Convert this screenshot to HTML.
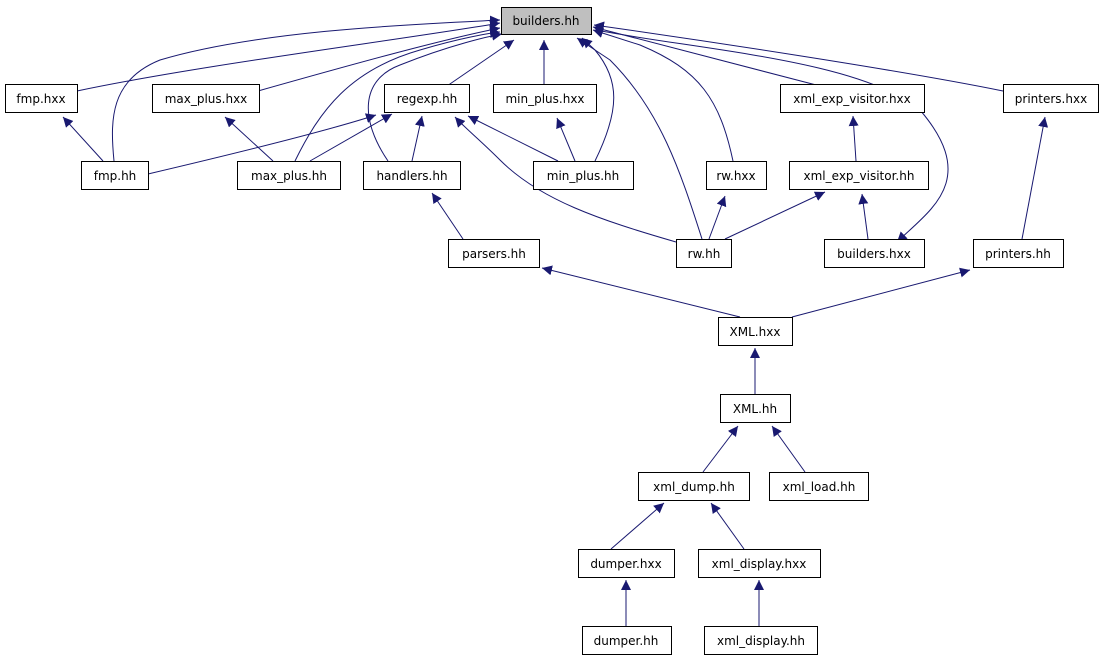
<!DOCTYPE html>
<html><head><meta charset="utf-8"><style>
html,body{margin:0;padding:0;background:#fff;}
svg text{font-family:"DejaVu Sans","Liberation Sans",sans-serif;font-size:12px;fill:#000;}
</style></head><body>
<svg width="1104" height="659" viewBox="0 0 1104 659" xmlns="http://www.w3.org/2000/svg">
<defs>
<marker id="a" viewBox="0 0 10 10" refX="10" refY="5" markerWidth="10" markerHeight="10" markerUnits="userSpaceOnUse" orient="auto">
<path d="M0,0 L10,5 L0,10 z" fill="#191970"/>
</marker>
</defs>
<g fill="none" stroke="#191970" stroke-width="1" marker-end="url(#a)">
<path d="M77,91 C200,65 400,40 500,23"/>
<path d="M114,161 C110,120 110,80 160,60 C260,30 420,24 500,20"/>
<path d="M258,91 C350,65 440,40 500,28"/>
<path d="M295,161 C320,110 350,70 420,50 C460,38 490,33 500,32"/>
<path d="M447,86 L514,40"/>
<path d="M388,161 C360,120 360,80 400,65 C450,45 490,36 502,34"/>
<path d="M544,86 L544,40"/>
<path d="M595,161 C620,110 620,80 595,50 L582,38"/>
<path d="M702,239 C680,170 660,110 610,60 L577,38"/>
<path d="M733,161 C720,100 700,70 640,45 L593,30"/>
<path d="M820,86 L593,27"/>
<path d="M1003,91 C900,70 700,40 594,25"/>
<path d="M596,30 C700,50 860,60 920,110 C980,180 930,210 897,242"/>
<path d="M103,161 L63,117"/>
<path d="M148,174 C250,150 330,130 376,115"/>
<path d="M273,161 L225,117"/>
<path d="M310,161 L392,114"/>
<path d="M412,161 L422,116"/>
<path d="M558,161 L468,116"/>
<path d="M575,161 L557,118"/>
<path d="M676,242 C600,220 540,200 500,160 C480,140 465,128 455,117"/>
<path d="M709,239 L725,196"/>
<path d="M725,239 L825,192"/>
<path d="M856,161 L853,116"/>
<path d="M868,239 L862,194"/>
<path d="M1022,239 L1045,117"/>
<path d="M463,239 L432,193"/>
<path d="M740,317 L542,268"/>
<path d="M792,317 L970,270"/>
<path d="M755,394 L755,348"/>
<path d="M703,472 L738,426"/>
<path d="M805,472 L772,426"/>
<path d="M611,549 L664,503"/>
<path d="M744,549 L711,503"/>
<path d="M626,626 L626,580"/>
<path d="M759,626 L759,580"/>
</g>
<g stroke="#000" stroke-width="1">
<rect x="501.5" y="7.5" width="90" height="27" fill="#bfbfbf"/>
<g fill="#fff">
<rect x="5.5" y="84.5" width="72" height="28"/>
<rect x="152.5" y="84.5" width="107" height="28"/>
<rect x="384.5" y="84.5" width="85" height="28"/>
<rect x="493.5" y="84.5" width="103" height="28"/>
<rect x="780.5" y="84.5" width="144" height="28"/>
<rect x="1003.5" y="84.5" width="95" height="28"/>
<rect x="81.5" y="161.5" width="67" height="28"/>
<rect x="237.5" y="161.5" width="103" height="28"/>
<rect x="363.5" y="161.5" width="97" height="28"/>
<rect x="533.5" y="161.5" width="100" height="28"/>
<rect x="706.5" y="161.5" width="60" height="28"/>
<rect x="789.5" y="161.5" width="139" height="28"/>
<rect x="448.5" y="239.5" width="91" height="28"/>
<rect x="676.5" y="239.5" width="55" height="28"/>
<rect x="824.5" y="239.5" width="100" height="28"/>
<rect x="973.5" y="239.5" width="90" height="28"/>
<rect x="718.5" y="317.5" width="74" height="28"/>
<rect x="720.5" y="394.5" width="70" height="28"/>
<rect x="638.5" y="472.5" width="111" height="28"/>
<rect x="769.5" y="472.5" width="99" height="28"/>
<rect x="578.5" y="549.5" width="96" height="28"/>
<rect x="698.5" y="549.5" width="122" height="28"/>
<rect x="582.5" y="626.5" width="89" height="28"/>
<rect x="704.5" y="626.5" width="113" height="28"/>
</g></g>
<g text-anchor="middle">
<text x="546" y="25">builders.hh</text>
<text x="41" y="103">fmp.hxx</text>
<text x="206" y="103">max_plus.hxx</text>
<text x="427" y="103">regexp.hh</text>
<text x="545" y="103">min_plus.hxx</text>
<text x="852" y="103">xml_exp_visitor.hxx</text>
<text x="1051" y="103">printers.hxx</text>
<text x="115" y="180">fmp.hh</text>
<text x="289" y="180">max_plus.hh</text>
<text x="412" y="180">handlers.hh</text>
<text x="583" y="180">min_plus.hh</text>
<text x="736" y="180">rw.hxx</text>
<text x="859" y="180">xml_exp_visitor.hh</text>
<text x="494" y="258">parsers.hh</text>
<text x="704" y="258">rw.hh</text>
<text x="874" y="258">builders.hxx</text>
<text x="1018" y="258">printers.hh</text>
<text x="755" y="336">XML.hxx</text>
<text x="755" y="413">XML.hh</text>
<text x="694" y="491">xml_dump.hh</text>
<text x="819" y="491">xml_load.hh</text>
<text x="626" y="568">dumper.hxx</text>
<text x="759" y="568">xml_display.hxx</text>
<text x="626" y="645">dumper.hh</text>
<text x="761" y="645">xml_display.hh</text>
</g>
</svg>
</body></html>
